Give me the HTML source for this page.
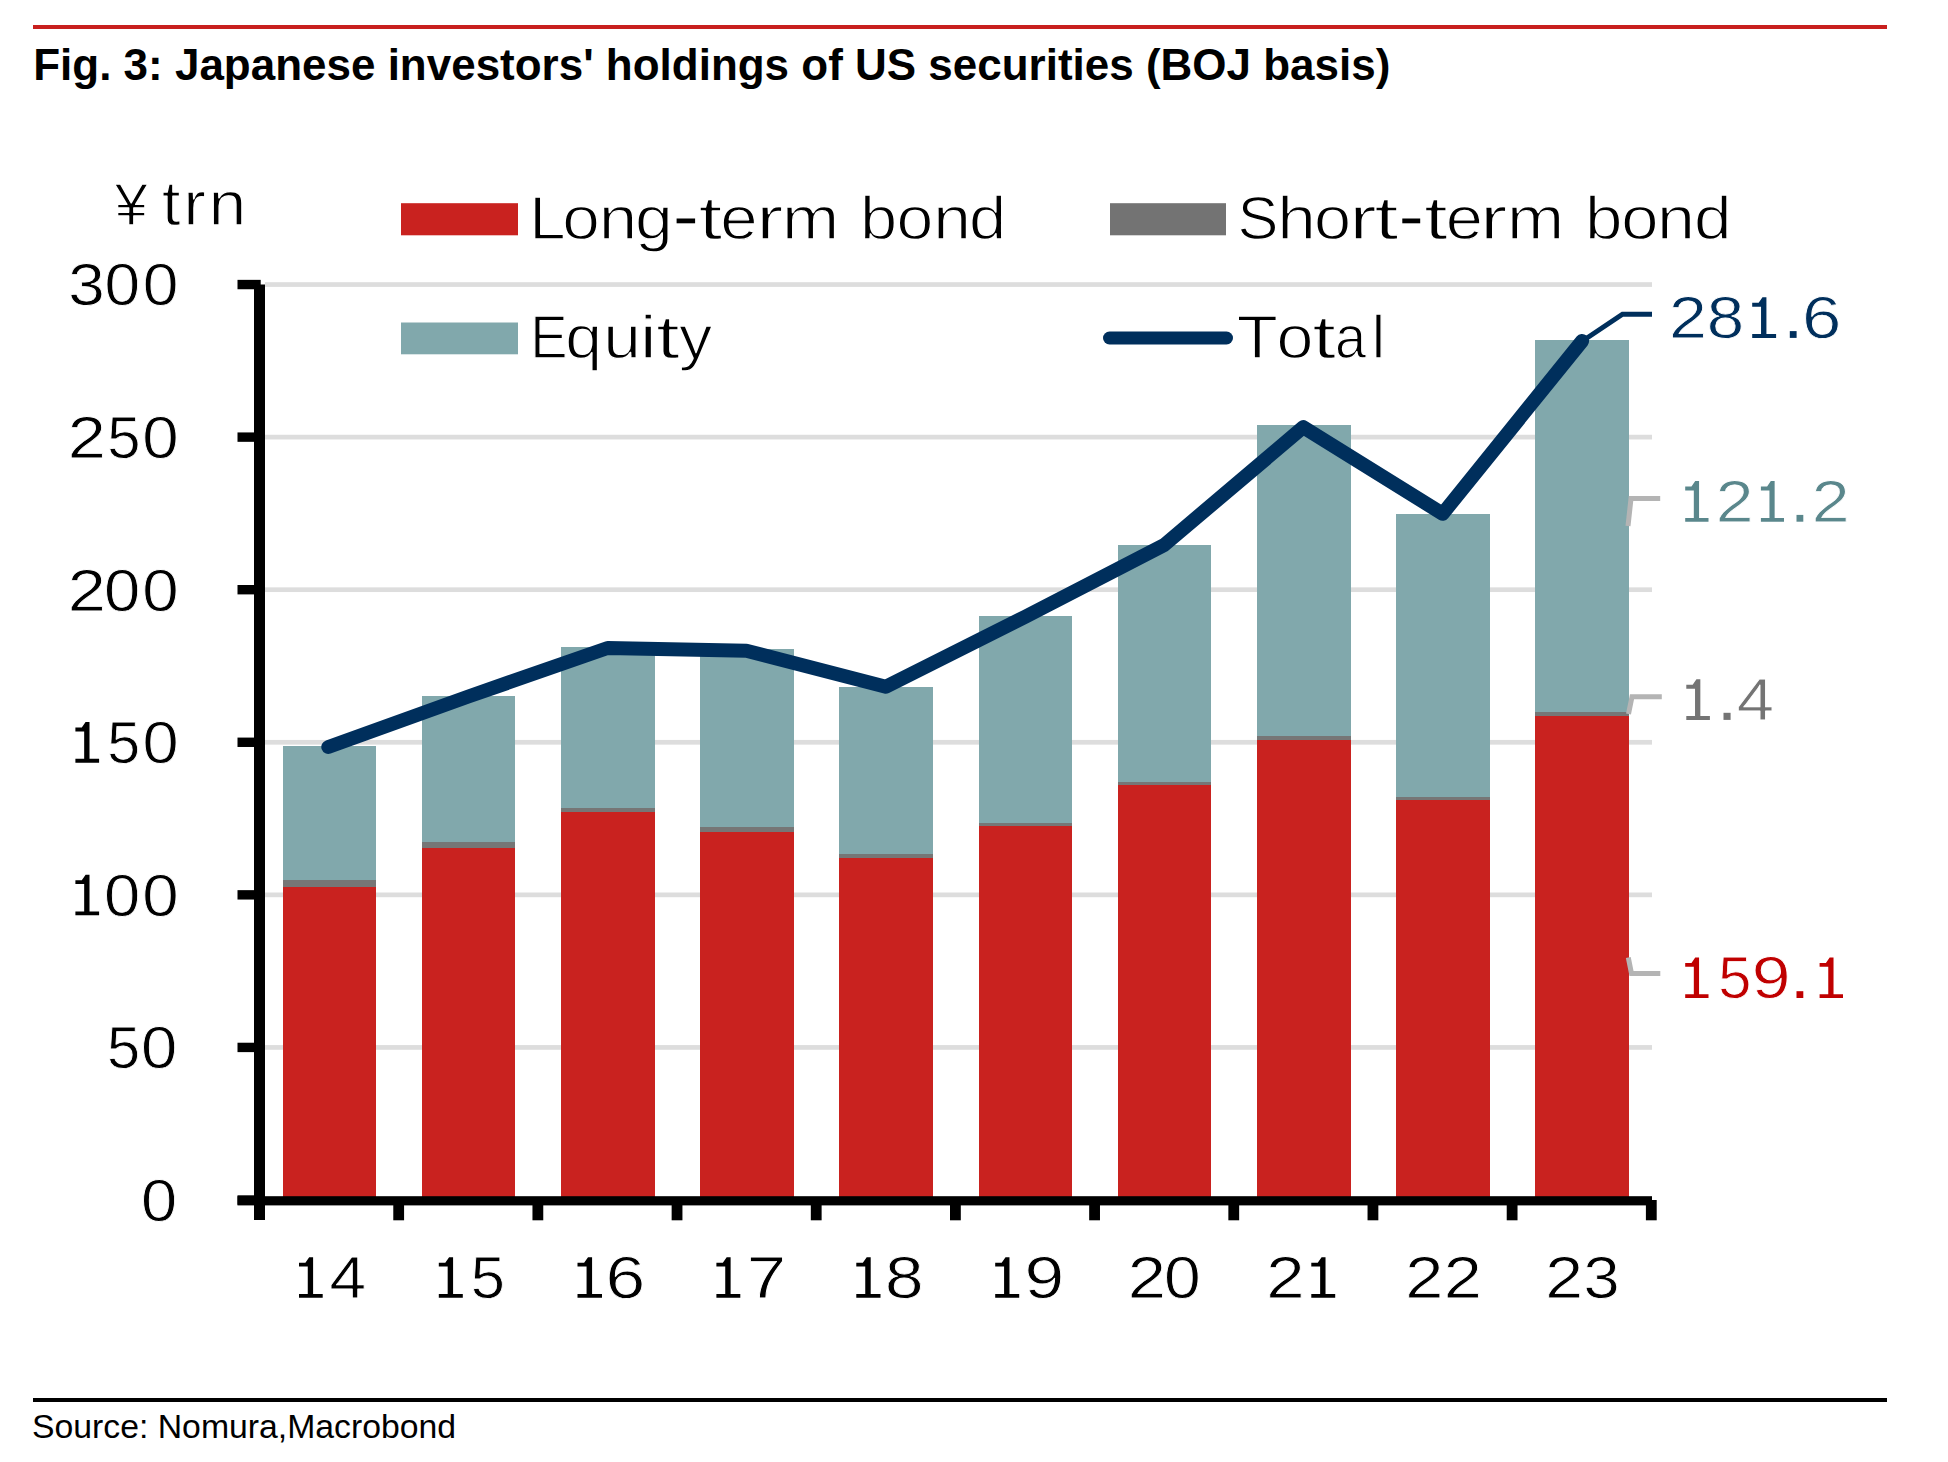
<!DOCTYPE html><html><head><meta charset="utf-8"><style>html,body{margin:0;padding:0;background:#fff;}svg{display:block;font-family:"Liberation Sans",sans-serif;}</style></head><body>
<svg width="1948" height="1462" viewBox="0 0 1948 1462">
<rect width="1948" height="1462" fill="#fff"/>
<rect x="33" y="25" width="1854" height="4" fill="#C8201E"/>
<text transform="translate(33.24,79.90) scale(0.9776,1)" font-size="45.00" font-weight="bold" fill="#000">Fig. 3: Japanese investors&#39; holdings of US securities (BOJ basis)</text>
<rect x="33" y="1398" width="1854" height="4" fill="#000"/>
<text transform="translate(31.98,1438.00) scale(0.9934,1)" font-size="34.00" font-weight="normal" fill="#000">Source: Nomura,Macrobond</text>
<rect x="265" y="1045.08" width="1387" height="4.7" fill="#DDDDDD"/>
<rect x="265" y="892.50" width="1387" height="4.7" fill="#DDDDDD"/>
<rect x="265" y="739.93" width="1387" height="4.7" fill="#DDDDDD"/>
<rect x="265" y="587.35" width="1387" height="4.7" fill="#DDDDDD"/>
<rect x="265" y="434.77" width="1387" height="4.7" fill="#DDDDDD"/>
<rect x="265" y="282.20" width="1387" height="4.7" fill="#DDDDDD"/>
<rect x="283" y="746" width="93" height="134" fill="#81A8AC"/>
<rect x="283" y="880" width="93" height="7" fill="#767676"/>
<rect x="283" y="887" width="93" height="313" fill="#C9221F"/>
<rect x="422" y="696" width="93" height="146" fill="#81A8AC"/>
<rect x="422" y="842" width="93" height="6" fill="#767676"/>
<rect x="422" y="848" width="93" height="352" fill="#C9221F"/>
<rect x="561" y="647" width="94" height="161" fill="#81A8AC"/>
<rect x="561" y="808" width="94" height="4" fill="#767676"/>
<rect x="561" y="812" width="94" height="388" fill="#C9221F"/>
<rect x="700" y="649" width="94" height="178" fill="#81A8AC"/>
<rect x="700" y="827" width="94" height="5" fill="#767676"/>
<rect x="700" y="832" width="94" height="368" fill="#C9221F"/>
<rect x="839" y="687" width="94" height="167" fill="#81A8AC"/>
<rect x="839" y="854" width="94" height="4" fill="#767676"/>
<rect x="839" y="858" width="94" height="342" fill="#C9221F"/>
<rect x="979" y="616" width="93" height="207" fill="#81A8AC"/>
<rect x="979" y="823" width="93" height="3" fill="#767676"/>
<rect x="979" y="826" width="93" height="374" fill="#C9221F"/>
<rect x="1118" y="545" width="93" height="237" fill="#81A8AC"/>
<rect x="1118" y="782" width="93" height="3" fill="#767676"/>
<rect x="1118" y="785" width="93" height="415" fill="#C9221F"/>
<rect x="1257" y="425" width="94" height="311" fill="#81A8AC"/>
<rect x="1257" y="736" width="94" height="4" fill="#767676"/>
<rect x="1257" y="740" width="94" height="460" fill="#C9221F"/>
<rect x="1396" y="514" width="94" height="283" fill="#81A8AC"/>
<rect x="1396" y="797" width="94" height="3" fill="#767676"/>
<rect x="1396" y="800" width="94" height="400" fill="#C9221F"/>
<rect x="1535" y="340" width="94" height="372" fill="#81A8AC"/>
<rect x="1535" y="712" width="94" height="4" fill="#767676"/>
<rect x="1535" y="716" width="94" height="484" fill="#C9221F"/>
<rect x="254" y="284.5" width="11" height="935.5" fill="#000"/>
<rect x="237.5" y="1195.30" width="23.2" height="9.4" fill="#000"/>
<rect x="237.5" y="1042.72" width="23.2" height="9.4" fill="#000"/>
<rect x="237.5" y="890.15" width="23.2" height="9.4" fill="#000"/>
<rect x="237.5" y="737.58" width="23.2" height="9.4" fill="#000"/>
<rect x="237.5" y="585.00" width="23.2" height="9.4" fill="#000"/>
<rect x="237.5" y="432.43" width="23.2" height="9.4" fill="#000"/>
<rect x="237.5" y="279.85" width="23.2" height="9.4" fill="#000"/>
<rect x="237.5" y="1196.2" width="1414.5" height="9.2" fill="#000"/>
<rect x="393.28" y="1200" width="10.8" height="20.3" fill="#000"/>
<rect x="532.46" y="1200" width="10.8" height="20.3" fill="#000"/>
<rect x="671.64" y="1200" width="10.8" height="20.3" fill="#000"/>
<rect x="810.82" y="1200" width="10.8" height="20.3" fill="#000"/>
<rect x="950.00" y="1200" width="10.8" height="20.3" fill="#000"/>
<rect x="1089.18" y="1200" width="10.8" height="20.3" fill="#000"/>
<rect x="1228.36" y="1200" width="10.8" height="20.3" fill="#000"/>
<rect x="1367.54" y="1200" width="10.8" height="20.3" fill="#000"/>
<rect x="1506.72" y="1200" width="10.8" height="20.3" fill="#000"/>
<rect x="1645.90" y="1200" width="10.8" height="20.3" fill="#000"/>
<path d="M328.3,747.0 L468.4,696.5 L607.6,648.0 L746.4,650.7 L885.8,686.8 L1025.3,616.7 L1164.2,545.0 L1303.3,427.2 L1442.6,513.8 L1582.1,341.0" fill="none" stroke="#002F5C" stroke-width="14" stroke-linejoin="round" stroke-linecap="round"/>
<path d="M1587,338 L1622.5,314.2 L1652,314.2" fill="none" stroke="#002F5C" stroke-width="5"/>
<path d="M1628,526 L1631,498.6 L1660.2,498.6" fill="none" stroke="#B4B4B4" stroke-width="5"/>
<path d="M1628.5,714 L1632,696.8 L1661.8,696.8" fill="none" stroke="#B4B4B4" stroke-width="5"/>
<path d="M1628.3,957.5 L1631.5,973.5 L1660.3,973.5" fill="none" stroke="#B4B4B4" stroke-width="5"/>
<rect x="401" y="203.2" width="117" height="32.1" fill="#C9221F"/>
<rect x="1110" y="203.2" width="116" height="32.1" fill="#737373"/>
<rect x="401" y="322.5" width="117" height="31.8" fill="#81A8AC"/>
<line x1="1109.5" y1="338" x2="1226.5" y2="338" stroke="#002F5C" stroke-width="13" stroke-linecap="round"/>
<g font-size="60.43" fill="#000" stroke="#fff" stroke-width="1.30" stroke-linejoin="round"><text transform="translate(529.32,238.85) scale(1.0820,1)">L</text><text transform="translate(562.35,238.85) scale(1.1182,1)">o</text><text transform="translate(598.75,238.85) scale(1.1446,1)">n</text><text transform="translate(635.03,238.85) scale(1.1252,1)">g</text><rect x="676.60" y="218.50" width="18.50" height="4.8" stroke="none"/><text transform="translate(698.46,238.85) scale(1.4211,1)">t</text><text transform="translate(720.36,238.85) scale(1.1125,1)">e</text><text transform="translate(756.27,238.85) scale(1.3436,1)">r</text><text transform="translate(781.99,238.85) scale(1.1360,1)">m</text><text transform="translate(860.00,238.85) scale(1.1068,1)">b</text><text transform="translate(896.41,238.85) scale(1.0938,1)">o</text><text transform="translate(933.25,238.85) scale(1.1213,1)">n</text><text transform="translate(968.97,238.85) scale(1.1068,1)">d</text></g>
<g font-size="60.43" fill="#000" stroke="#fff" stroke-width="1.30" stroke-linejoin="round"><text transform="translate(1237.49,238.85) scale(1.0158,1)">S</text><text transform="translate(1277.28,238.85) scale(1.1504,1)">h</text><text transform="translate(1313.88,238.85) scale(1.1043,1)">o</text><text transform="translate(1349.37,238.85) scale(1.3701,1)">r</text><text transform="translate(1374.14,238.85) scale(1.4470,1)">t</text><rect x="1402.30" y="218.50" width="17.90" height="4.8" stroke="none"/><text transform="translate(1423.97,238.85) scale(1.4146,1)">t</text><text transform="translate(1445.68,238.85) scale(1.1055,1)">e</text><text transform="translate(1479.92,238.85) scale(1.3568,1)">r</text><text transform="translate(1506.99,238.85) scale(1.1360,1)">m</text><text transform="translate(1584.97,238.85) scale(1.1141,1)">b</text><text transform="translate(1621.37,238.85) scale(1.1078,1)">o</text><text transform="translate(1656.91,238.85) scale(1.1291,1)">n</text><text transform="translate(1693.95,238.85) scale(1.1178,1)">d</text></g>
<g font-size="60.43" fill="#000" stroke="#fff" stroke-width="1.30" stroke-linejoin="round"><text transform="translate(530.17,358.15) scale(0.9260,1)">E</text><text transform="translate(565.30,358.15) scale(1.0946,1)">q</text><text transform="translate(603.35,358.15) scale(1.1213,1)">u</text><text transform="translate(639.52,358.15) scale(1.3054,1)">i</text><text transform="translate(656.07,358.15) scale(1.4146,1)">t</text><text transform="translate(679.02,358.15) scale(1.1009,1)">y</text></g>
<g font-size="60.43" fill="#000" stroke="#fff" stroke-width="1.30" stroke-linejoin="round"><text transform="translate(1236.70,358.15) scale(1.1147,1)">T</text><text transform="translate(1276.60,358.15) scale(1.0973,1)">o</text><text transform="translate(1312.27,358.15) scale(1.4146,1)">t</text><text transform="translate(1334.91,358.15) scale(0.9253,1)">a</text><text transform="translate(1371.51,358.15) scale(1.0296,1)">l</text></g>
<text transform="translate(114.75,224.95) scale(0.9880,1)" font-size="60.00" font-weight="normal" fill="#000" stroke="#fff" stroke-width="1.30" stroke-linejoin="round">¥</text>
<text transform="translate(161.83,225.35) scale(1.0900,1)" font-size="62.46" font-weight="normal" fill="#000" letter-spacing="2.38" stroke="#fff" stroke-width="1.30" stroke-linejoin="round">trn</text>
<g font-size="59.71" fill="#000" stroke="#fff" stroke-width="0.80" stroke-linejoin="round"><text transform="translate(68.27,305.35) scale(1.1000,1)">3</text><text transform="translate(104.54,305.35) scale(1.0711,1)">0</text><text transform="translate(142.83,305.35) scale(1.0746,1)">0</text></g>
<g font-size="59.71" fill="#000" stroke="#fff" stroke-width="0.80" stroke-linejoin="round"><text transform="translate(67.67,457.92) scale(1.1483,1)">2</text><text transform="translate(107.21,457.92) scale(1.0013,1)">5</text><text transform="translate(142.28,457.92) scale(1.0955,1)">0</text></g>
<g font-size="59.71" fill="#000" stroke="#fff" stroke-width="0.80" stroke-linejoin="round"><text transform="translate(67.67,610.50) scale(1.1483,1)">2</text><text transform="translate(104.09,610.50) scale(1.0920,1)">0</text><text transform="translate(142.28,610.50) scale(1.0955,1)">0</text></g>
<g font-size="59.71" fill="#000" stroke="#fff" stroke-width="0.80" stroke-linejoin="round"><path d="M85.59,722.08 L89.50,722.08 L89.50,758.86 L99.10,758.86 L99.10,762.68 L75.40,762.68 L75.40,758.86 L84.17,758.86 L84.17,731.49 L75.40,731.49 L75.40,727.56 L81.80,727.56Z" stroke="none"/><text transform="translate(107.33,763.08) scale(0.9907,1)">5</text><text transform="translate(142.40,763.08) scale(1.0885,1)">0</text></g>
<g font-size="59.71" fill="#000" stroke="#fff" stroke-width="0.80" stroke-linejoin="round"><path d="M85.59,874.65 L89.50,874.65 L89.50,911.43 L99.10,911.43 L99.10,915.25 L75.40,915.25 L75.40,911.43 L84.17,911.43 L84.17,884.07 L75.40,884.07 L75.40,880.13 L81.80,880.13Z" stroke="none"/><text transform="translate(104.09,915.65) scale(1.0920,1)">0</text><text transform="translate(142.28,915.65) scale(1.0955,1)">0</text></g>
<g font-size="59.71" fill="#000" stroke="#fff" stroke-width="0.80" stroke-linejoin="round"><text transform="translate(107.12,1068.23) scale(0.9977,1)">5</text><text transform="translate(141.09,1068.23) scale(1.0920,1)">0</text></g>
<g font-size="59.71" fill="#000" stroke="#fff" stroke-width="0.80" stroke-linejoin="round"><text transform="translate(141.10,1220.80) scale(1.0885,1)">0</text></g>
<g font-size="59.71" fill="#000" stroke="#fff" stroke-width="0.80" stroke-linejoin="round"><path d="M309.19,1257.20 L313.10,1257.20 L313.10,1293.98 L322.70,1293.98 L322.70,1297.80 L299.00,1297.80 L299.00,1293.98 L307.77,1293.98 L307.77,1266.62 L299.00,1266.62 L299.00,1262.68 L305.40,1262.68Z" stroke="none"/><text transform="translate(329.59,1298.20) scale(1.1010,1)">4</text></g>
<g font-size="59.71" fill="#000" stroke="#fff" stroke-width="0.80" stroke-linejoin="round"><path d="M449.12,1257.20 L453.08,1257.20 L453.08,1293.98 L462.80,1293.98 L462.80,1297.80 L438.80,1297.80 L438.80,1293.98 L447.68,1293.98 L447.68,1266.62 L438.80,1266.62 L438.80,1262.68 L445.28,1262.68Z" stroke="none"/><text transform="translate(470.74,1298.20) scale(1.0295,1)">5</text></g>
<g font-size="59.71" fill="#000" stroke="#fff" stroke-width="0.80" stroke-linejoin="round"><path d="M588.03,1257.20 L592.08,1257.20 L592.08,1293.98 L602.00,1293.98 L602.00,1297.80 L577.50,1297.80 L577.50,1293.98 L586.57,1293.98 L586.57,1266.62 L577.50,1266.62 L577.50,1262.68 L584.12,1262.68Z" stroke="none"/><text transform="translate(605.53,1298.20) scale(1.1957,1)">6</text></g>
<g font-size="59.71" fill="#000" stroke="#fff" stroke-width="0.80" stroke-linejoin="round"><path d="M726.68,1257.20 L730.62,1257.20 L730.62,1293.98 L740.30,1293.98 L740.30,1297.80 L716.40,1297.80 L716.40,1293.98 L725.24,1293.98 L725.24,1266.62 L716.40,1266.62 L716.40,1262.68 L722.85,1262.68Z" stroke="none"/><text transform="translate(746.66,1298.20) scale(1.1851,1)">7</text></g>
<g font-size="59.71" fill="#000" stroke="#fff" stroke-width="0.80" stroke-linejoin="round"><path d="M866.71,1257.20 L870.70,1257.20 L870.70,1293.98 L880.50,1293.98 L880.50,1297.80 L856.30,1297.80 L856.30,1293.98 L865.25,1293.98 L865.25,1266.62 L856.30,1266.62 L856.30,1262.68 L862.83,1262.68Z" stroke="none"/><text transform="translate(885.08,1298.20) scale(1.1616,1)">8</text></g>
<g font-size="59.71" fill="#000" stroke="#fff" stroke-width="0.80" stroke-linejoin="round"><path d="M1005.52,1257.20 L1009.48,1257.20 L1009.48,1293.98 L1019.20,1293.98 L1019.20,1297.80 L995.20,1297.80 L995.20,1293.98 L1004.08,1293.98 L1004.08,1266.62 L995.20,1266.62 L995.20,1262.68 L1001.68,1262.68Z" stroke="none"/><text transform="translate(1024.59,1298.20) scale(1.1957,1)">9</text></g>
<g font-size="59.71" fill="#000" stroke="#fff" stroke-width="0.80" stroke-linejoin="round"><text transform="translate(1127.66,1298.20) scale(1.1520,1)">2</text><text transform="translate(1164.06,1298.20) scale(1.1060,1)">0</text></g>
<g font-size="59.71" fill="#000" stroke="#fff" stroke-width="0.80" stroke-linejoin="round"><text transform="translate(1266.15,1298.20) scale(1.1557,1)">2</text><path d="M1321.58,1257.20 L1325.52,1257.20 L1325.52,1293.98 L1335.20,1293.98 L1335.20,1297.80 L1311.30,1297.80 L1311.30,1293.98 L1320.14,1293.98 L1320.14,1266.62 L1311.30,1266.62 L1311.30,1262.68 L1317.75,1262.68Z" stroke="none"/></g>
<g font-size="59.71" fill="#000" stroke="#fff" stroke-width="0.80" stroke-linejoin="round"><text transform="translate(1405.17,1298.20) scale(1.1483,1)">2</text><text transform="translate(1443.67,1298.20) scale(1.1483,1)">2</text></g>
<g font-size="59.71" fill="#000" stroke="#fff" stroke-width="0.80" stroke-linejoin="round"><text transform="translate(1545.29,1298.20) scale(1.1410,1)">2</text><text transform="translate(1583.40,1298.20) scale(1.0894,1)">3</text></g>
<g font-size="59.71" fill="#002F5C" stroke="#fff" stroke-width="0.80" stroke-linejoin="round"><text transform="translate(1668.89,338.30) scale(1.1410,1)">2</text><text transform="translate(1706.77,338.30) scale(1.1259,1)">8</text><path d="M1762.48,297.30 L1766.42,297.30 L1766.42,334.08 L1776.10,334.08 L1776.10,337.90 L1752.20,337.90 L1752.20,334.08 L1761.04,334.08 L1761.04,306.72 L1752.20,306.72 L1752.20,302.78 L1758.65,302.78Z" stroke="none"/><rect x="1789.80" y="331.10" width="6.80" height="6.80" stroke="none"/><text transform="translate(1801.96,338.30) scale(1.1849,1)">6</text></g>
<g font-size="59.71" fill="#5A878C" stroke="#fff" stroke-width="0.80" stroke-linejoin="round"><path d="M1695.22,481.10 L1699.06,481.10 L1699.06,517.88 L1708.50,517.88 L1708.50,521.70 L1685.20,521.70 L1685.20,517.88 L1693.82,517.88 L1693.82,490.52 L1685.20,490.52 L1685.20,486.58 L1691.49,486.58Z" stroke="none"/><text transform="translate(1715.80,522.10) scale(1.1373,1)">2</text><path d="M1770.83,481.10 L1774.64,481.10 L1774.64,517.88 L1784.00,517.88 L1784.00,521.70 L1760.90,521.70 L1760.90,517.88 L1769.45,517.88 L1769.45,490.52 L1760.90,490.52 L1760.90,486.58 L1767.14,486.58Z" stroke="none"/><rect x="1796.50" y="514.90" width="6.80" height="6.80" stroke="none"/><text transform="translate(1811.79,522.10) scale(1.1410,1)">2</text></g>
<g font-size="59.71" fill="#747474" stroke="#fff" stroke-width="0.80" stroke-linejoin="round"><path d="M1696.45,679.30 L1700.34,679.30 L1700.34,716.08 L1709.90,716.08 L1709.90,719.90 L1686.30,719.90 L1686.30,716.08 L1695.03,716.08 L1695.03,688.72 L1686.30,688.72 L1686.30,684.78 L1692.67,684.78Z" stroke="none"/><rect x="1723.50" y="712.80" width="7.10" height="7.10" stroke="none"/><text transform="translate(1736.86,720.30) scale(1.1208,1)">4</text></g>
<g font-size="59.71" fill="#C00000" stroke="#fff" stroke-width="0.80" stroke-linejoin="round"><path d="M1695.22,957.40 L1699.06,957.40 L1699.06,994.18 L1708.50,994.18 L1708.50,998.00 L1685.20,998.00 L1685.20,994.18 L1693.82,994.18 L1693.82,966.82 L1685.20,966.82 L1685.20,962.88 L1691.49,962.88Z" stroke="none"/><text transform="translate(1718.22,998.40) scale(0.9977,1)">5</text><text transform="translate(1751.66,998.40) scale(1.1668,1)">9</text><rect x="1796.50" y="991.20" width="6.80" height="6.80" stroke="none"/><path d="M1829.66,957.40 L1833.52,957.40 L1833.52,994.18 L1843.00,994.18 L1843.00,998.00 L1819.60,998.00 L1819.60,994.18 L1828.26,994.18 L1828.26,966.82 L1819.60,966.82 L1819.60,962.88 L1825.92,962.88Z" stroke="none"/></g>
</svg></body></html>
